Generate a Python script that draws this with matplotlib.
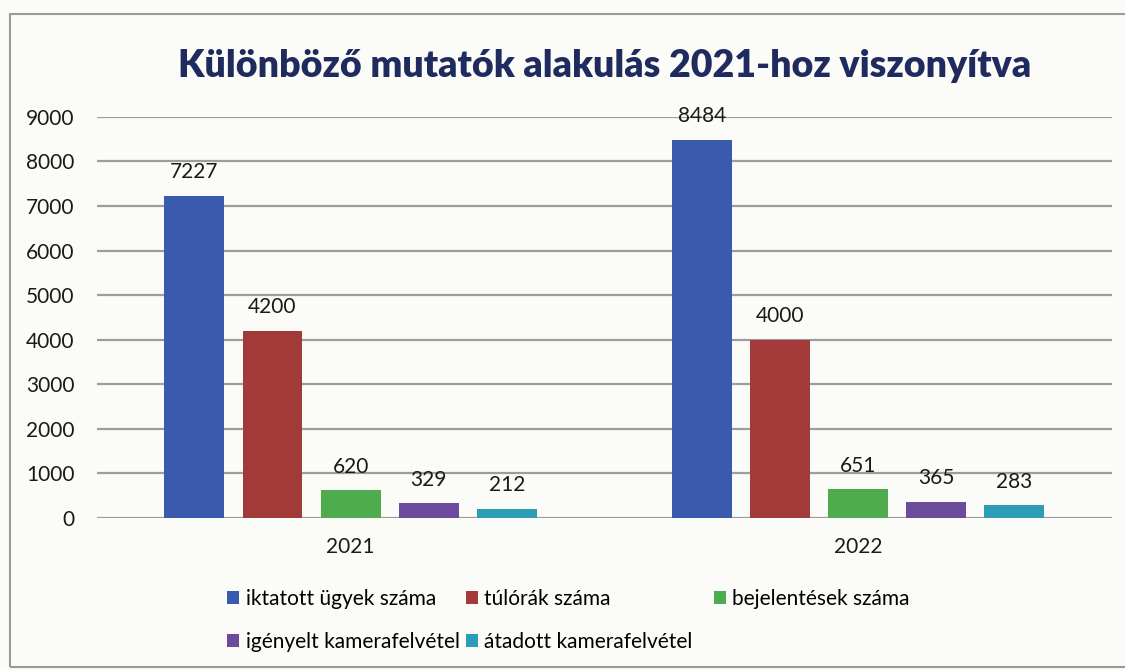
import matplotlib.pyplot as plt
from matplotlib.patches import Rectangle

plt.rcParams['font.family'] = ['Lato', 'DejaVu Sans']

# ---------------------------------------------------------
# Data
# ---------------------------------------------------------
years = ["2021", "2022"]

series_names = [
    "iktatott ügyek száma",
    "túlórák száma",
    "bejelentések száma",
    "igényelt kamerafelvétel",
    "átadott kamerafelvétel",
]

iktatott = [7227, 8484]
tulorak = [4200, 4000]
bejelentesek = [620, 651]
igenyelt = [329, 365]
atadott = [212, 283]

colors = ["#3a5aad", "#a23a3a", "#4eab4e", "#6c4b9c", "#2d9db6"]

values = [iktatott, tulorak, bejelentesek, igenyelt, atadott]

# ---------------------------------------------------------
# Figure
# ---------------------------------------------------------
bg = "#fbfbf8"
fig = plt.figure(figsize=(11.25, 6.71), dpi=100, facecolor=bg)
ax = fig.add_axes([0.0862, 0.228, 0.902, 0.598], facecolor=bg)

# outer chart border
fig.patches.append(Rectangle((0.009, 0.006), 1.1, 0.973,
                             transform=fig.transFigure, fill=False,
                             edgecolor="#9a9a9a", linewidth=1.5))

step = 0.154
width = 0.118
x = [0, 1]

bars = []
for i, (name, vals, col) in enumerate(zip(series_names, values, colors)):
    pos = [xi + (i - 2) * step for xi in x]
    b = ax.bar(pos, vals, width=width, color=col, label=name, zorder=3)
    bars.append(b)
    for p, v in zip(pos, vals):
        ax.text(p, v + 300, str(v), ha="center", va="bottom",
                fontsize=15, color="#1a1a1a")

ax.set_xlim(-0.5, 1.5)
ax.set_ylim(0, 9000)
ax.set_yticks(range(0, 9001, 1000))
ax.set_xticks(x)
ax.set_xticklabels(years)
ax.tick_params(axis="both", length=0, labelsize=15, colors="#1a1a1a")
ax.tick_params(axis="y", pad=16)
ax.tick_params(axis="x", pad=14)

ax.grid(axis="y", color="#9d9d9d", linewidth=1.6, zorder=0)
for s in ax.spines.values():
    s.set_visible(False)

fig.text(605 / 1125, 1 - 66 / 671,
         "Különböző mutatók alakulás 2021-hoz viszonyítva",
         ha="center", va="center", fontsize=27, fontweight="heavy",
         color="#1f2b5e")

# ---------------------------------------------------------
# Legend (Excel-like two rows)
# ---------------------------------------------------------
h = [b[0] for b in bars]
fig.legend([h[0], h[3], h[1], h[4]],
           [series_names[0], series_names[3],
            series_names[1], series_names[4]],
           ncol=2, loc="upper left",
           bbox_to_anchor=(208 / 1125, 1 - 570 / 671),
           frameon=False, fontsize=15, handlelength=0.6,
           handleheight=0.6, handletextpad=0.3,
           columnspacing=0.3, labelspacing=1.1)
fig.legend([h[2]], [series_names[2]], loc="upper left",
           bbox_to_anchor=(695 / 1125, 1 - 570 / 671),
           frameon=False, fontsize=15, handlelength=0.6,
           handleheight=0.6, handletextpad=0.3)

fig.savefig("out.png", dpi=100, facecolor=bg)
